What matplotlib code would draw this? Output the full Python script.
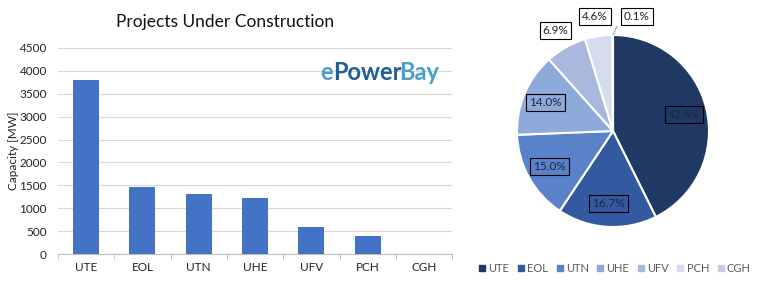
import numpy as np
import matplotlib.pyplot as plt
from matplotlib.lines import Line2D

plt.rcParams['font.family'] = ['Lato', 'DejaVu Sans']

categories = ['UTE', 'EOL', 'UTN', 'UHE', 'UFV', 'PCH', 'CGH']
capacity = [3790, 1465, 1315, 1225, 590, 395, 10]
pie_share = [42.6, 16.7, 15.0, 14.0, 6.9, 4.6, 0.1]
colors = ['#203864', '#335aa0', '#5a82c8', '#8eaadb', '#a9b8dc', '#d5dcee', '#c4cde8']

fig = plt.figure(figsize=(7.58, 2.89), dpi=100)

# bar chart
ax = fig.add_axes([0.0765, 0.121, 0.52, 0.713])
x = np.arange(len(categories))
ax.bar(x, capacity, width=0.46, color='#4472c4', zorder=3)
ax.set_xlim(-0.5, len(categories) - 0.5)
ax.set_ylim(0, 4500)
ax.set_yticks(np.arange(0, 4501, 500))
ax.set_xticks(x)
ax.set_xticklabels(categories)
ax.set_xticks(np.arange(-0.5, len(categories), 1), minor=True)
ax.tick_params(axis='x', which='major', length=0, pad=6, labelsize=8.5, colors='#222222')
ax.tick_params(axis='x', which='minor', length=4, color='#bfbfbf')
ax.tick_params(axis='y', length=0, pad=8, labelsize=8.5, colors='#222222')
ax.grid(axis='y', color='#d9d9d9', lw=0.8, zorder=0)
for s in ['top', 'right', 'left']:
    ax.spines[s].set_visible(False)
ax.spines['bottom'].set_color('#bfbfbf')
ax.yaxis.set_label_coords(-0.098, 0.5)
ax.set_ylabel('Capacity [MW]', fontsize=8.5, color='#222222')
fig.text(0.297, 0.925, 'Projects Under Construction', ha='center', va='center', fontsize=12.5, color='#111111')

# watermark, three coloured pieces placed by measured widths
r = fig.canvas.get_renderer()
wm = dict(fontsize=17, fontweight='bold', va='center')
def width(s):
    tmp = fig.text(0, 0, s, **wm)
    w = tmp.get_window_extent(renderer=r).width / fig.bbox.width
    tmp.remove()
    return w
x0, y0 = 0.423, 0.748
fig.text(x0, y0, 'e', color='#4a9fcb', **wm)
fig.text(x0 + width('ePower') - width('Power'), y0, 'Power', color='#1f5f95', **wm)
fig.text(x0 + width('ePowerBay') - width('Bay') - 3 / 758, y0, 'Bay', color='#4a9fcb', **wm)

# pie chart
pax = fig.add_axes([517 / 758, 62 / 289, 192 / 758, 192 / 289])
wedges, _ = pax.pie(pie_share, colors=colors, startangle=90, counterclock=False,
                    wedgeprops=dict(edgecolor='white', linewidth=1.5))
pax.set_aspect('equal')
cum = np.cumsum([0] + pie_share)
box_in = dict(boxstyle='square,pad=0.25', fc='none', ec='black', lw=0.8)
box_out = dict(boxstyle='square,pad=0.25', fc='white', ec='black', lw=0.8)
for i, p in enumerate(pie_share):
    mid = 90 - 360 * (cum[i] + p / 2) / 100
    a = np.deg2rad(mid)
    lab = f'{p:.1f}%'
    if p > 10:
        rr = 0.76
        pax.text(rr * np.cos(a), rr * np.sin(a), lab, ha='center', va='center',
                 fontsize=8.5, color='#1a2848', bbox=box_in)
    elif p > 1:
        rr = 1.21
        pax.text(rr * np.cos(a), rr * np.sin(a), lab, ha='center', va='center',
                 fontsize=8.5, color='#222222', bbox=box_out)
    else:
        pax.plot([0.0, 0.04], [1.0, 1.09], color='#a6a6a6', lw=0.8, clip_on=False)
        pax.text(0.25, 1.19, lab, ha='center', va='center', fontsize=8.5,
                 color='#222222', bbox=box_out)
pax.set_xlim(-1, 1)
pax.set_ylim(-1, 1)

handles = [Line2D([], [], marker='s', ls='', color=c, markersize=4) for c in colors]
fig.legend(handles, categories, loc='center', bbox_to_anchor=(615 / 758, 1 - 268 / 289), ncol=7,
           frameon=False, fontsize=8, handlelength=0.5, handletextpad=0.3, columnspacing=0.8,
           labelcolor='#595959', borderaxespad=0, borderpad=0)

fig.savefig('out.png', dpi=100)
